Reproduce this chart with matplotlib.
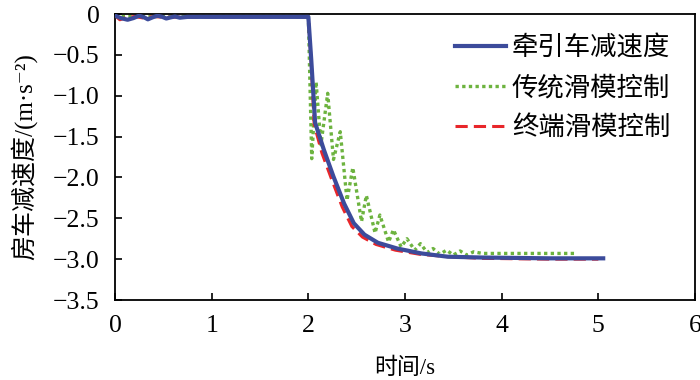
import numpy as np
import matplotlib
matplotlib.use('Agg')
import matplotlib.pyplot as plt
from matplotlib.ticker import FuncFormatter

fams = ['Liberation Serif', 'Noto Sans CJK SC', 'DejaVu Serif']
plt.rcParams['font.family'] = fams

# 牵引车减速度
t_tow = [0, 0.06, 0.13, 0.19, 0.25, 0.30, 0.34, 0.39, 0.44, 0.49, 0.53, 0.58, 0.62, 0.67,
         0.75, 1.0, 1.5, 2.0, 2.03, 2.07, 2.16, 2.26, 2.37, 2.47, 2.58, 2.72, 2.92, 3.17,
         3.44, 3.79, 4.5, 5.05]
a_tow = [-0.02, -0.05, -0.07, -0.05, -0.02, -0.04, -0.065, -0.04, -0.02, -0.035, -0.055, -0.04,
         -0.03, -0.045, -0.035, -0.035, -0.035, -0.035, -0.56, -1.33, -1.66, -1.99, -2.32, -2.56,
         -2.70, -2.80, -2.87, -2.93, -2.97, -2.98, -2.99, -2.99]

# 传统滑模控制
t_smc = [0, 0.5, 1.0, 1.5, 2.0, 2.035, 2.08, 2.13, 2.2, 2.26, 2.33, 2.4, 2.46, 2.55, 2.6,
         2.69, 2.74, 2.83, 2.88, 2.96, 3.02, 3.1, 3.16, 3.23, 3.29, 3.36, 3.43, 3.5, 3.57,
         3.64, 3.71, 3.8, 4.0, 4.5, 4.76]
a_smc = [-0.03, -0.03, -0.03, -0.03, -0.03, -1.77, -0.83, -1.6, -0.97, -1.78, -1.44, -2.28,
         -1.88, -2.54, -2.22, -2.68, -2.46, -2.79, -2.64, -2.85, -2.75, -2.89, -2.81, -2.92,
         -2.87, -2.94, -2.89, -2.95, -2.90, -2.95, -2.91, -2.93, -2.93, -2.93, -2.93]

# 终端滑模控制
t_tsmc = [0, 0.05, 0.1, 0.2, 0.3, 0.4, 0.5, 1.0, 1.5, 2.0, 2.03, 2.06, 2.14, 2.24, 2.35,
          2.45, 2.56, 2.7, 2.9, 3.15, 3.45, 3.8, 4.5, 5.0]
a_tsmc = [-0.02, -0.07, -0.05, -0.03, -0.05, -0.03, -0.04, -0.035, -0.035, -0.035, -0.6, -1.35,
          -1.7, -2.02, -2.36, -2.6, -2.73, -2.82, -2.89, -2.94, -2.97, -2.99, -3.0, -3.0]

labels = ['牵引车减速度', '传统滑模控制', '终端滑模控制']

fig = plt.figure(figsize=(7, 3.8), dpi=100)
ax = fig.add_axes([0.1643, 0.2105, 0.8286, 0.7526])

ax.plot(t_smc, a_smc, color='#6db33f', linestyle=(0, (1, 1)), lw=2.4, label=labels[1], zorder=2)
ax.plot(t_tsmc, a_tsmc, color='#e8262a', linestyle=(0, (4, 2)), lw=2.2, label=labels[2], zorder=3)
ax.plot(t_tow, a_tow, color='#3c4b9b', lw=3.0, label=labels[0], zorder=4)

ax.set_xlim(0, 6)
ax.set_ylim(-3.5, 0)
ax.set_xticks(np.arange(0, 7, 1))
ax.set_yticks(np.arange(-3.5, 0.01, 0.5))
ax.xaxis.set_major_formatter(FuncFormatter(lambda v, p: '%d' % round(v)))
ax.yaxis.set_major_formatter(FuncFormatter(
    lambda v, p: '0' if abs(v) < 1e-9 else ('%.1f' % v).replace('-', '\u2212')))
ax.tick_params(direction='in', length=5, width=1.2, labelsize=18.5, pad=11)
for lab in ax.get_xticklabels() + ax.get_yticklabels():
    lab.set_fontfamily(fams)
for s in ax.spines.values():
    s.set_linewidth(1.3)

ax.set_xlabel('时间/s', fontsize=16.5, labelpad=15, family=fams)
ax.set_ylabel('房车减速度/(m·s⁻²)', fontsize=18, family=fams)
ax.yaxis.set_label_coords(-0.134, 0.5)

h, l = ax.get_legend_handles_labels()
order = [2, 0, 1]
ax.legend([h[i] for i in order], [l[i] for i in order], loc='upper left',
          bbox_to_anchor=(0.586, 0.925), frameon=False, prop={'family': fams, 'size': 19},
          handlelength=1.93, handletextpad=0.23, labelspacing=0.57,
          borderpad=0, borderaxespad=0)

fig.savefig('out.png', dpi=100)
